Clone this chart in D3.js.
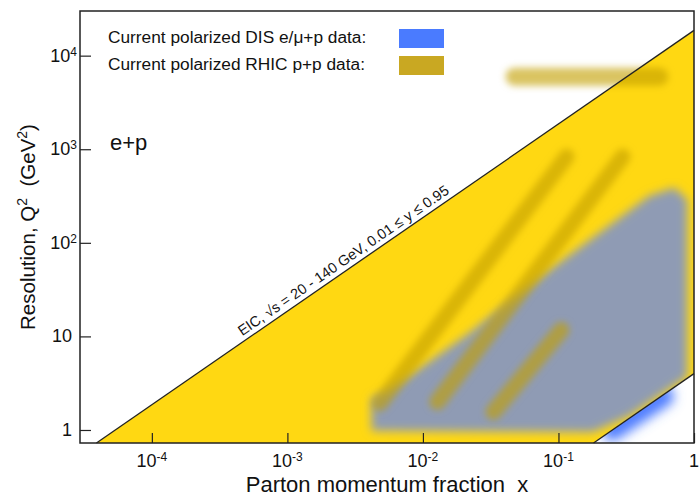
<!DOCTYPE html>
<html>
<head>
<meta charset="utf-8">
<script src="https://cdn.jsdelivr.net/npm/d3@7"></script>
<style>
  body { margin: 0; background: #fff; }
  text { font-family: "Liberation Sans", Arial, sans-serif; fill: #111; white-space: pre; }
</style>
</head>
<body>
<script>
const width = 700,
  height = 495;

// axes
const xDomain = [2.95e-5, 1];
const yDomain = [0.726, 3.0e4];
const xTicks = [1e-4, 1e-3, 1e-2, 1e-1, 1];
const xTickLabels = [['10', '-4'], ['10', '-3'], ['10', '-2'], ['10', '-1'], ['1', '']];
const yTicks = [1, 10, 100, 1000, 10000];
const yTickLabels = [['1', ''], ['10', ''], ['10', '2'], ['10', '3'], ['10', '4']];

// EIC kinematic limits, [x, Q2]
const upperLimit = [[3.9e-5, 0.726], [1, 18620]];
const lowerLimit = [[0.1815, 0.726], [1, 4]];

// current polarized DIS coverage, [x, Q2]
const disRegion = [
  [0.00418, 0.98], [0.00418, 2.2], [0.00521, 2.49], [0.0221, 10.9],
  [0.0859, 51.4], [0.469, 318], [0.716, 387], [0.893, 288],
  [0.893, 3.7], [0.333, 1.4], [0.18, 0.95]
];

// current polarized RHIC p+p bands, [x, Q2] end points
const rhicBands = [
  [[0.0474, 5960], [0.555, 5960]],
  [[0.0048, 1.94], [0.1146, 832]],
  [[0.0128, 2.0], [0.297, 832]],
  [[0.0332, 1.56], [0.105, 11.7]]
];

// blue glow under the low-y limit
const blueEdge = [[0.25, 0.98], [0.6, 2.3]];

const legendItems = ['Current polarized DIS e/\u03bc+p data:', 'Current polarized RHIC p+p data:'];
const legendColors = ['#4a7bff', '#c9a822'];

const x = d3.scaleLog().domain(xDomain).range([80, 694]);
const y = d3.scaleLog().domain(yDomain).range([443, 11]);
const pt = d => [x(d[0]), y(d[1])];
const line = d3.line().x(d => x(d[0])).y(d => y(d[1]));

const svg = d3.select('body').append('svg')
  .attr('width', width)
  .attr('height', height);

const defs = svg.append('defs');
const blur = (id, s) => defs.append('filter')
  .attr('id', id)
  .attr('filterUnits', 'userSpaceOnUse')
  .attr('x', 0).attr('y', 0).attr('width', width).attr('height', height)
  .append('feGaussianBlur').attr('stdDeviation', s);
blur('blurDis', 5);
blur('blurBand', 3.6);
blur('blurBlue', 6);

const [xa, xb] = x.range(), [ya, yb] = y.range();
const yellowPoly = [upperLimit[0], upperLimit[1], lowerLimit[1], lowerLimit[0]];

defs.append('clipPath').attr('id', 'clipPlot')
  .append('rect').attr('x', xa).attr('y', yb).attr('width', xb - xa).attr('height', ya - yb);
defs.append('clipPath').attr('id', 'clipYellow')
  .append('path').attr('d', line(yellowPoly) + 'Z');
defs.append('clipPath').attr('id', 'clipBelow')
  .append('path').attr('d', line([lowerLimit[0], lowerLimit[1], [xDomain[1], yDomain[0]]]) + 'Z');

// blue glow below the low-y line
svg.append('g').attr('clip-path', 'url(#clipBelow)')
  .append('path')
  .attr('d', line(blueEdge))
  .attr('stroke', '#4d7bff')
  .attr('stroke-width', 20)
  .attr('stroke-linecap', 'round')
  .attr('fill', 'none')
  .attr('filter', 'url(#blurBlue)');

// EIC region
svg.append('path')
  .attr('d', line(yellowPoly) + 'Z')
  .attr('fill', '#ffd812');

// DIS region
svg.append('g').attr('clip-path', 'url(#clipYellow)')
  .append('path')
  .attr('d', line(disRegion) + 'Z')
  .attr('fill', '#8f9bb4')
  .attr('filter', 'url(#blurDis)');

// RHIC bands
svg.append('g').attr('clip-path', 'url(#clipPlot)')
  .selectAll('path')
  .data(rhicBands)
  .enter().append('path')
  .attr('d', line)
  .attr('stroke', '#c4a000')
  .attr('stroke-opacity', 0.62)
  .attr('stroke-width', (d, i) => i === 0 ? 18 : 16)
  .attr('stroke-linecap', 'round')
  .attr('fill', 'none')
  .attr('filter', 'url(#blurBand)');

// limit lines
svg.selectAll('.limit')
  .data([upperLimit, lowerLimit])
  .enter().append('path')
  .attr('class', 'limit')
  .attr('d', line)
  .attr('stroke', '#222')
  .attr('stroke-width', 1.3)
  .attr('fill', 'none');

// label along the upper limit
const p0 = pt(upperLimit[0]), p1 = pt(upperLimit[1]);
const angle = Math.atan2(p1[1] - p0[1], p1[0] - p0[0]) * 180 / Math.PI;
const lx = 245, ly = p0[1] + (lx - p0[0]) * (p1[1] - p0[1]) / (p1[0] - p0[0]);
svg.append('text')
  .attr('transform', `translate(${lx},${ly}) rotate(${angle})`)
  .attr('dy', -5)
  .attr('font-size', 14.5)
  .text('EIC, \u221As = 20 - 140 GeV, 0.01 \u2264 y \u2264 0.95');

// minor ticks
const minor = (dom) => {
  const out = [];
  for (let e = -6; e <= 5; e++) {
    for (let k = 2; k <= 9; k++) {
      const v = k * Math.pow(10, e);
      if (v > dom[0] && v < dom[1]) out.push(v);
    }
  }
  return out;
};

const gx = svg.append('g').attr('transform', `translate(0,${ya})`);
gx.call(d3.axisBottom(x).tickValues(minor(xDomain)).tickSize(-5).tickFormat(''));
gx.call(d3.axisBottom(x).tickValues(xTicks).tickSize(-10).tickFormat(''));
gx.selectAll('.domain').remove();

const gy = svg.append('g').attr('transform', `translate(${xa},0)`);
gy.call(d3.axisLeft(y).tickValues(minor(yDomain)).tickSize(-6).tickFormat(''));
gy.call(d3.axisLeft(y).tickValues(yTicks).tickSize(-11).tickFormat(''));
gy.selectAll('.domain').remove();
svg.selectAll('.tick line').attr('stroke', '#222').attr('stroke-width', 1.2);

// tick labels
const supLabel = (sel, lab) => {
  sel.append('tspan').text(lab[0]);
  if (lab[1]) sel.append('tspan').attr('font-size', 12).attr('dy', '-0.5em').text(lab[1]);
};
svg.append('g').selectAll('text')
  .data(xTicks)
  .enter().append('text')
  .attr('x', d => x(d))
  .attr('y', 467)
  .attr('text-anchor', 'middle')
  .attr('font-size', 18)
  .each(function(d, i) { supLabel(d3.select(this), xTickLabels[i]); });

svg.append('g').selectAll('text')
  .data(yTicks)
  .enter().append('text')
  .attr('x', (d, i) => yTickLabels[i][1] ? 77 : 72)
  .attr('y', d => y(d) + 6)
  .attr('text-anchor', 'end')
  .attr('font-size', 18)
  .each(function(d, i) { supLabel(d3.select(this), yTickLabels[i]); });

// frame
svg.append('rect')
  .attr('x', xa).attr('y', yb)
  .attr('width', xb - xa).attr('height', ya - yb)
  .attr('fill', 'none')
  .attr('stroke', '#222')
  .attr('stroke-width', 1.5);

// axis titles
svg.append('text')
  .attr('x', (xa + xb) / 2)
  .attr('y', 492)
  .attr('text-anchor', 'middle')
  .attr('font-size', 22)
  .text('Parton momentum fraction  x');

const yt = svg.append('text')
  .attr('transform', `translate(35,${(ya + yb) / 2}) rotate(-90)`)
  .attr('text-anchor', 'middle')
  .attr('font-size', 20.5);
yt.append('tspan').text('Resolution, Q');
yt.append('tspan').attr('font-size', 14).attr('dy', '-0.55em').text('2');
yt.append('tspan').attr('dy', '0.38em').text('  (GeV');
yt.append('tspan').attr('font-size', 14).attr('dy', '-0.55em').text('2');
yt.append('tspan').attr('dy', '0.38em').text(')');

// legend
const lg = svg.append('g');
lg.selectAll('text')
  .data(legendItems)
  .enter().append('text')
  .attr('x', 108)
  .attr('y', (d, i) => 43 + i * 27)
  .attr('font-size', 17.3)
  .text(d => d);
lg.selectAll('rect')
  .data(legendColors)
  .enter().append('rect')
  .attr('x', 399)
  .attr('y', (d, i) => 29 + i * 27)
  .attr('width', 45)
  .attr('height', 19)
  .attr('fill', d => d);

svg.append('text')
  .attr('x', 110)
  .attr('y', 150)
  .attr('font-size', 22)
  .text('e+p');
</script>
</body>
</html>
